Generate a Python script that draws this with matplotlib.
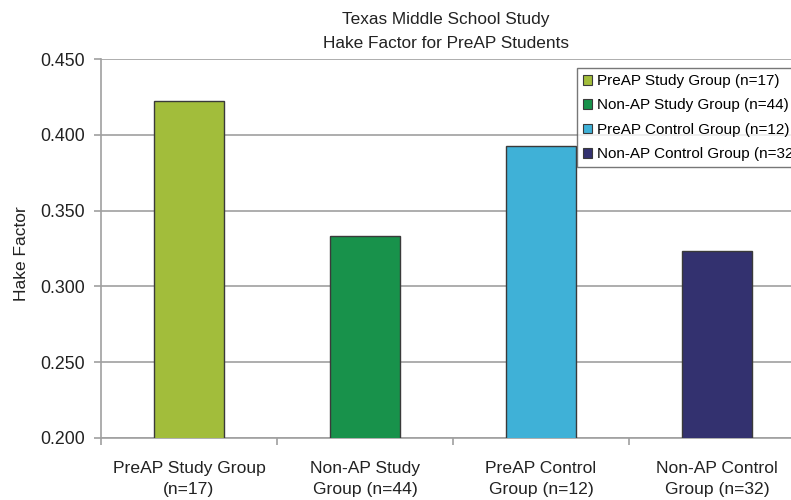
import matplotlib.pyplot as plt
from matplotlib.patches import Patch

plt.rcParams['font.family'] = ['Liberation Sans', 'DejaVu Sans']

# data
categories = ["PreAP Study Group\n(n=17)", "Non-AP Study\nGroup (n=44)",
              "PreAP Control\nGroup (n=12)", "Non-AP Control\nGroup (n=32)"]
legend_labels = ["PreAP Study Group (n=17)", "Non-AP Study Group (n=44)",
                 "PreAP Control Group (n=12)", "Non-AP Control Group (n=32)"]
hake = [0.4225, 0.3335, 0.3928, 0.3235]
colors = ["#A2BD3B", "#18924B", "#3FB1D7", "#33316F"]
yticks = [0.200, 0.250, 0.300, 0.350, 0.400, 0.450]

W, H = 791, 500
fig = plt.figure(figsize=(W / 100, H / 100), dpi=100)
ax = fig.add_axes([101 / W, (H - 437.7) / H, 690 / W, (437.7 - 59.3) / H])

x = range(len(hake))
ax.bar(x, hake, width=0.40, color=colors, edgecolor="#3a3a3a", linewidth=1.0, zorder=3)

ax.set_ylim(0.2, 0.45)
ax.set_xlim(-0.5, -0.5 + 690 / 176)
ax.set_yticks(yticks)
ax.set_yticklabels([f"{v:.3f}" for v in yticks], fontsize=12.8, color="#222222")
ax.yaxis.grid(True, color="#a0a0a0", linewidth=1.2, zorder=0)

ax.set_xticks(list(x))
ax.set_xticklabels(categories, fontsize=12.6, color="#222222", linespacing=1.45)
ax.set_xticks([-0.5, 0.5, 1.5, 2.5], minor=True)
ax.tick_params(axis="x", which="major", length=0, pad=17)
ax.tick_params(axis="x", which="minor", length=5, color="#a0a0a0", width=1.2)
ax.tick_params(axis="y", length=5, color="#a0a0a0", width=1.2, pad=6.5)

for side in ["top", "right"]:
    ax.spines[side].set_visible(False)
for side in ["left", "bottom"]:
    ax.spines[side].set_color("#a0a0a0")
    ax.spines[side].set_linewidth(1.2)

ax.set_ylabel("Hake Factor", fontsize=12.5, color="#222222")
ax.yaxis.set_label_coords((29 - 101) / 690, 0.487)
ax.set_title("Texas Middle School Study\nHake Factor for PreAP Students",
             fontsize=12.4, color="#222222", pad=8, linespacing=1.8)

handles = [Patch(facecolor=c, edgecolor="#3a3a3a", linewidth=0.8) for c in colors]
leg = ax.legend(handles, legend_labels, loc="upper left",
                bbox_to_anchor=((577 - 101) / 690, (437.7 - 68) / 378.4),
                borderaxespad=0, fontsize=11, frameon=True, fancybox=False,
                handlelength=0.6, handleheight=0.6, handletextpad=0.3,
                labelspacing=0.68, borderpad=0.4)
leg.get_frame().set_edgecolor("#555555")
leg.get_frame().set_linewidth(1.0)

fig.savefig("out.png", dpi=100)
